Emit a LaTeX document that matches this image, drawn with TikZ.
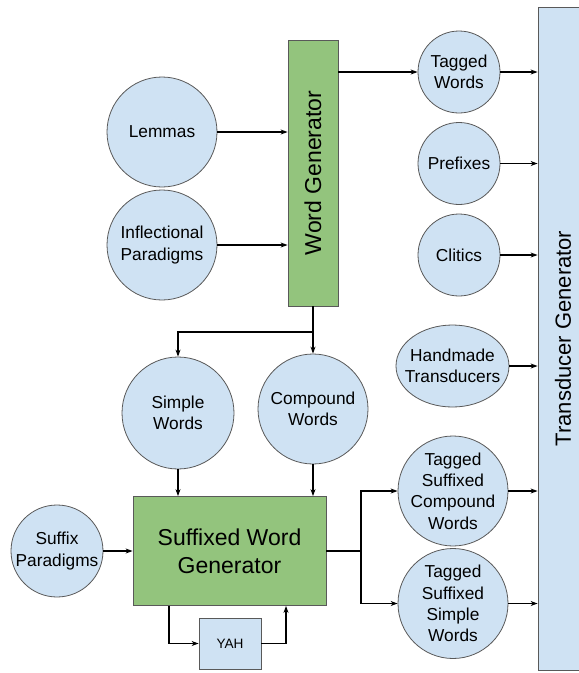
\documentclass[tikz,border=0pt]{standalone}
\usepackage{graphicx}
\usepackage{fontspec}
\setmainfont{Liberation Sans}
\usepackage{tikz}
\usetikzlibrary{arrows.meta,positioning,calc,shapes.geometric}
\definecolor{blobblue}{HTML}{CFE2F3}
\definecolor{gengreen}{HTML}{93C47D}
\definecolor{edgegray}{HTML}{595959}

\begin{document}
\begin{tikzpicture}[>={Stealth[length=7pt,width=5pt]},x=1pt,y=-1pt,
  data/.style={circle,draw=edgegray,line width=0.8pt,fill=blobblue,inner sep=0pt,align=center,font=\fontsize{17.3}{21.3}\selectfont},
  genbox/.style={rectangle,draw=edgegray,line width=0.8pt,fill=gengreen,inner sep=0pt,align=center,font=\fontsize{23}{27.7}\selectfont},
  flow/.style={->,line width=1.1pt}]
  \clip (0,0) rectangle (579,673);
  \node[genbox,minimum width=50pt,minimum height=266pt] (wordgen) at (313,173) {\rotatebox{90}{Word Generator}};
  \node[draw=edgegray,line width=0.8pt,fill=blobblue,minimum width=50pt,minimum height=663pt,inner sep=0pt,font=\fontsize{22}{26}\selectfont] (transgen) at (563,338.5) {\rotatebox{90}{Transducer Generator}};
  \node[data,minimum size=110pt] (lemmas) at (162,132) {Lemmas};
  \node[data,minimum size=110pt] (inflect) at (162,245) {Inflectional\\Paradigms};
  \node[data,minimum size=82pt] (tagged) at (459,72) {Tagged\\Words};
  \node[data,minimum size=82pt] (prefixes) at (459,163.5) {Prefixes};
  \node[data,minimum size=82pt] (clitics) at (459,255) {Clitics};
  \node[data,ellipse,inner xsep=-10pt,minimum width=113pt,minimum height=82pt] (handmade) at (452.5,366) {Handmade\\Transducers};
  \node[data,minimum size=112pt] (simple) at (178,413) {Simple\\Words};
  \node[data,minimum size=110pt] (compound) at (313,409) {Compound\\Words};
  \node[data,minimum size=110pt,inner sep=-4pt] (tsc) at (453,491) {Tagged\\Suffixed\\Compound\\Words};
  \node[data,minimum size=110pt,inner sep=-4pt] (tss) at (453,603.5) {Tagged\\Suffixed\\Simple\\Words};
  \node[data,minimum size=92pt] (suffix) at (57,551) {Suffix\\Paradigms};
  \node[genbox,minimum width=193pt,minimum height=109pt] (suffgen) at (229.5,551) {Suffixed Word\\Generator};
  \node[draw=edgegray,line width=0.8pt,fill=blobblue,minimum width=62pt,minimum height=51pt,inner sep=0pt,font=\fontsize{13.6}{16}\selectfont] (yah) at (230,643.5) {YAH};
  % word generator
  \draw[flow] (lemmas) -- (lemmas -| wordgen.west);
  \draw[flow] (inflect) -- (inflect -| wordgen.west);
  \draw[flow] (wordgen.east |- tagged) -- (tagged);
  \coordinate (wgsplit) at (313,332);
  \draw[line width=1.1pt] (wordgen.south) -- (wgsplit);
  \draw[flow] (wgsplit) -| (simple);
  \draw[flow] (wgsplit) -- (compound);
  % suffixed word generator
  \draw[flow] (simple) -- (simple |- suffgen.north);
  \draw[flow] (compound) -- (compound |- suffgen.north);
  \draw[flow] (suffix) -- (suffix -| suffgen.west);
  \coordinate (sgsplit) at (361,551);
  \draw[line width=1.1pt] (suffgen.east) -- (sgsplit);
  \draw[flow] (sgsplit) |- (tsc);
  \draw[flow] (sgsplit) |- (tss);
  \draw[flow] ([xshift=-60.5pt]suffgen.south) |- (yah);
  \draw[flow] (yah) -| ([xshift=56.5pt]suffgen.south);
  % transducer generator
  \draw[flow] (tagged) -- (tagged -| transgen.west);
  \draw[flow] (prefixes) -- (prefixes -| transgen.west);
  \draw[flow] (clitics) -- (clitics -| transgen.west);
  \draw[flow] (handmade) -- (handmade -| transgen.west);
  \draw[flow] (tsc) -- (tsc -| transgen.west);
  \draw[flow] (tss) -- (tss -| transgen.west);
\end{tikzpicture}
\end{document}
